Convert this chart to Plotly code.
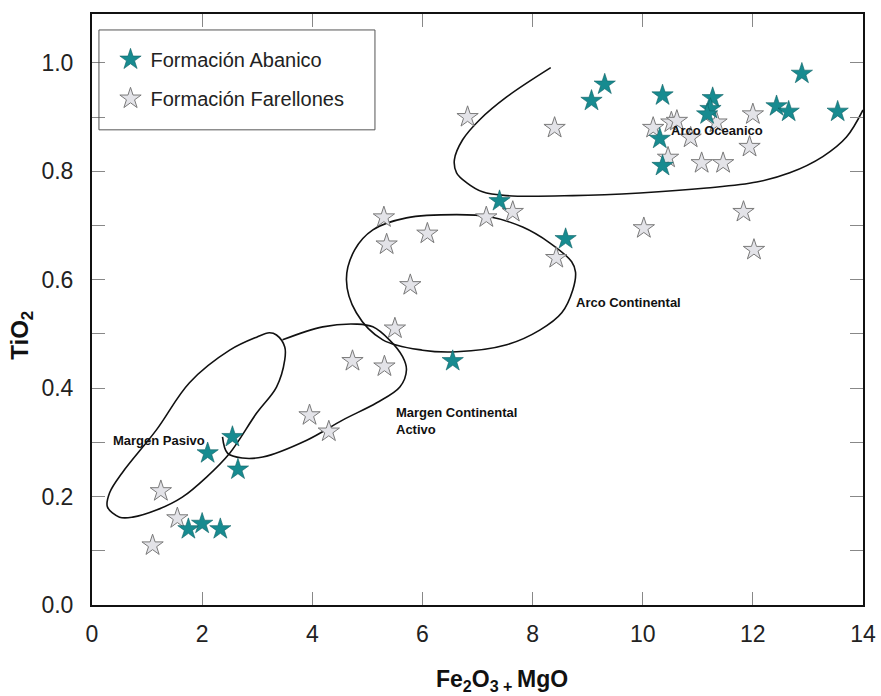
import plotly.graph_objects as go

# --- sample compositions (wt%) ---
abanico_x = [2.55, 2.10, 2.65, 1.75, 2.00, 2.33, 6.55, 7.40, 8.60, 9.07, 9.31,
             10.36, 10.31, 10.36, 11.27, 11.23, 11.17, 12.43, 12.65, 12.89, 13.54]
abanico_y = [0.31, 0.28, 0.25, 0.14, 0.15, 0.14, 0.45, 0.745, 0.675, 0.93, 0.96,
             0.94, 0.86, 0.81, 0.935, 0.915, 0.905, 0.92, 0.91, 0.98, 0.91]

farellones_x = [1.25, 1.55, 1.10, 3.95, 4.30, 4.73, 5.31, 5.50, 5.78, 5.30, 5.35,
                6.09, 7.16, 7.64, 8.43, 6.82, 8.40, 10.19, 10.52, 10.62, 11.34,
                10.87, 12.00, 11.94, 10.46, 11.07, 11.46, 11.83, 10.02, 12.02]
farellones_y = [0.21, 0.16, 0.11, 0.35, 0.32, 0.45, 0.44, 0.51, 0.59, 0.715, 0.665,
                0.685, 0.715, 0.725, 0.64, 0.90, 0.88, 0.88, 0.89, 0.893, 0.89,
                0.862, 0.905, 0.845, 0.825, 0.815, 0.815, 0.725, 0.695, 0.655]

# --- tectonic-setting field boundaries (Bhatia, 1983) ---
oceanico_x = [8.33, 7.53, 7.04, 6.73, 6.58, 6.62, 6.80, 7.09, 7.53, 8.73, 9.95,
              11.16, 12.07, 12.67, 13.27, 13.70, 14.0]
oceanico_y = [0.991, 0.937, 0.895, 0.858, 0.821, 0.797, 0.779, 0.762, 0.755, 0.755,
              0.760, 0.769, 0.780, 0.797, 0.827, 0.863, 0.913]

continental_x = [6.62, 7.53, 8.13, 8.53, 8.73, 8.78, 8.71, 8.31, 7.82, 7.22, 6.62,
                 5.71, 5.10, 4.77, 4.62, 4.80, 5.28, 6.00, 6.62]
continental_y = [0.467, 0.480, 0.507, 0.539, 0.581, 0.614, 0.633, 0.668, 0.697,
                 0.716, 0.720, 0.714, 0.692, 0.655, 0.600, 0.539, 0.489, 0.470, 0.467]

activo_x = [3.46, 4.19, 4.81, 5.10, 5.40, 5.64, 5.71, 5.59, 5.17, 4.55, 3.90,
            3.10, 2.73, 2.46, 2.37]
activo_y = [0.489, 0.513, 0.518, 0.513, 0.489, 0.458, 0.434, 0.402, 0.373, 0.341,
            0.304, 0.273, 0.271, 0.280, 0.310]

pasivo_x = [1.77, 1.17, 0.55, 0.32, 0.28, 0.50, 0.74, 1.17, 1.64, 2.08, 2.50,
            2.99, 3.35, 3.50, 3.50, 3.35, 3.22, 2.99, 2.50, 1.77]
pasivo_y = [0.410, 0.323, 0.244, 0.207, 0.181, 0.162, 0.162, 0.175, 0.199, 0.236,
            0.280, 0.354, 0.402, 0.452, 0.476, 0.498, 0.502, 0.494, 0.470, 0.410]

field_labels = ["Arco Oceanico", "Arco Continental",
                "Margen Continental<br>Activo", "Margen Pasivo"]
field_label_x = [11.34, 9.75, 5.49, 1.22]
field_label_y = [0.875, 0.557, 0.339, 0.304]
field_label_anchor = ["center", "center", "left", "center"]

x_ticks = [0, 2, 4, 6, 8, 10, 12, 14]
y_ticks = [0.0, 0.1, 0.2, 0.3, 0.4, 0.5, 0.6, 0.7, 0.8, 0.9, 1.0]
y_ticktext = ["0.0", "", "0.2", "", "0.4", "", "0.6", "", "0.8", "", "1.0"]

TEAL = "#178b90"
GREY_FILL = "#e3e3e8"
FONT = "Liberation Sans, Arial, sans-serif"

fig = go.Figure()

for fx, fy in [(oceanico_x, oceanico_y), (continental_x, continental_y),
               (activo_x, activo_y), (pasivo_x, pasivo_y)]:
    fig.add_trace(go.Scatter(x=fx, y=fy, mode="lines",
                             line=dict(color="#111111", width=1.6, shape="spline", smoothing=1.0),
                             showlegend=False, hoverinfo="skip"))

fig.add_trace(go.Scatter(
    x=farellones_x, y=farellones_y, mode="markers", name="Formación Farellones",
    legendrank=2, legendgroup="b",
    marker=dict(symbol="star", size=16, color=GREY_FILL, line=dict(color="#7a7a7a", width=1))))
fig.add_trace(go.Scatter(
    x=abanico_x, y=abanico_y, mode="markers", name="Formación Abanico",
    legendrank=1, legendgroup="a",
    marker=dict(symbol="star", size=16, color=TEAL, line=dict(color="#0f6165", width=0.6))))

for txt, lx, ly, anc in zip(field_labels, field_label_x, field_label_y, field_label_anchor):
    fig.add_annotation(x=lx, y=ly, text=f"<b>{txt}</b>", showarrow=False,
                       xanchor=anc, align="left",
                       font=dict(family=FONT, size=13, color="#111111"))

# axis titles
fig.add_annotation(xref="paper", yref="paper", x=0.532, y=-0.127,
                   text="<b>Fe<sub>2</sub>O<sub>3 + </sub>MgO</b>", showarrow=False,
                   xanchor="center", yanchor="middle",
                   font=dict(family=FONT, size=23, color="#111111"))
fig.add_annotation(xref="paper", yref="paper", x=-0.091, y=0.457,
                   text="<b>TiO<sub>2</sub></b>", showarrow=False, textangle=-90,
                   xanchor="center", yanchor="middle",
                   font=dict(family=FONT, size=24, color="#111111"))

# legend frame
fig.add_shape(type="rect", xref="paper", yref="paper",
              x0=0.009, x1=0.367, y0=0.804, y1=0.973,
              line=dict(color="#555555", width=1), fillcolor="rgba(0,0,0,0)")

axis_common = dict(showline=True, linecolor="#111111", linewidth=2, mirror="ticks",
                   ticks="inside", ticklen=13, tickwidth=1, tickcolor="#888888",
                   showgrid=False, zeroline=False, automargin=False,
                   tickfont=dict(family=FONT, size=23, color="#222222"))

fig.update_xaxes(range=[0, 14], tickvals=x_ticks, ticklabelstandoff=7, **axis_common)
fig.update_yaxes(range=[0, 1.09], tickvals=y_ticks, ticktext=y_ticktext,
                 ticklabelstandoff=12, **axis_common)

fig.update_layout(
    width=881, height=696,
    margin=dict(l=92, r=18, t=14, b=91, autoexpand=False),
    paper_bgcolor="white", plot_bgcolor="white",
    showlegend=True,
    legend=dict(x=0.024, y=0.956, xanchor="left", yanchor="top",
                bgcolor="rgba(0,0,0,0)", borderwidth=0, tracegroupgap=10,
                font=dict(family=FONT, size=20, color="#222222")),
)

fig.write_html("out.html")
